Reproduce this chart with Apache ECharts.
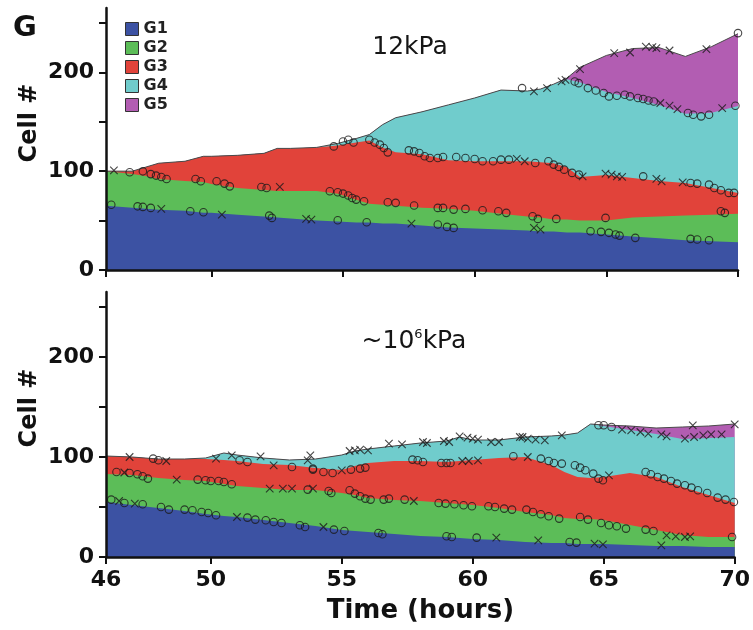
<!DOCTYPE html>
<html><head><meta charset="utf-8">
<script src="https://cdn.jsdelivr.net/npm/echarts@6/dist/echarts.min.js"></script>
<style>html,body{margin:0;padding:0;background:#fff}#c{width:753px;height:630px}</style>
</head><body><div id="c"></div>
<script>
// ---- data (cell counts per generation) ----
const groups = ['G1', 'G2', 'G3', 'G4', 'G5'];
const xTicks = [46, 50, 55, 60, 65, 70];
const yTicks = [0, 50, 100, 150, 200, 250];
const yLabels = [0, 100, 200];

// 12 kPa panel
const hoursTop = [46,47,47.5,48,49,49.7,50,51,52,52.5,53,54,54.8,55.5,56,56.5,57,58,59,60,61,62,62.5,63,63.5,64,65,66,67,68,69,70];
const g1Top = [65,63,62,61,60,58,58,56,54,53,52,50,49,48,48,47,47,45,43,42,41,40,39,39,38,38,36,34,32,30,29,28];
const g2Top = [35,34,33,31,30,31,29,27,27,27,28,30,28,23,19,19,18,18,19,18,16,14,14,12,13,12,14,19,22,25,27,29];
const g3Top = [0,3,9,16,20,26,28,33,37,43,43,44,49,58,64,58,54,54,49,50,53,56,56,57,53,44,46,40,36,33,27,21];
const g4Top = [0,0,0,0,0,0,0,0,0,0,0,0,2,4,6,23,35,43,56,64,72,71,74,80,89,96,84,81,77,70,76,88];
const g5Top = [0,0,0,0,0,0,0,0,0,0,0,0,0,0,0,0,0,0,0,0,0,0,0,0,1,15,37,50,58,58,67,73];

// ~10^6 kPa panel
const hoursBot = [46,47,48,49,49.8,50.5,51,52,53,54,55,55.5,56,57,58,59,59.5,60,61,62,63,63.5,64,64.5,65,66,67,68,69,70];
const g1Bot = [55,52,49,46,43,41,40,37,34,31,27,26,25,23,21,20,19,18,17,15,14,14,13,13,13,12,11,11,10,10];
const g2Bot = [28,30,30,31,33,32,31,32,33,36,37,36,34,34,35,34,34,34,32,30,28,25,25,25,24,20,16,11,10,10];
const g3Bot = [18,18,19,21,22,24,25,24,25,22,23,29,35,39,40,41,43,45,50,55,50,46,42,41,43,52,53,48,42,34];
const g4Bot = [0,0,0,0,1,7,6,6,5,9,15,15,14,15,18,21,24,20,18,20,29,37,44,54,51,43,43,48,57,66];
const g5Bot = [0,0,0,0,0,0,0,0,0,0,0,0,0,0,0,0,0,0,0,0,0,0,0,0,1,4,6,12,12,13];

// division / event markers [hour, cell #]
const topCircles = [[46.9,98.8],[47.4,99.8],[47.7,97],[47.9,95.5],[48.1,94],[48.3,92],[49.4,92],[49.6,89.7],[50.2,89.7],[50.5,87.4],[50.7,84.6],[51.9,84],[52.1,83],
[46.2,66],[47.2,64.4],[47.4,63.8],[47.7,62.8],[49.2,59.4],[49.7,58.4],[52.2,55],[52.3,52.7],
[54.65,125],[55.0,130],[55.2,131.8],[55.4,129],[56.0,131.8],[56.2,129],[56.4,126.8],[56.55,123.4],[56.7,119],
[57.5,121],[57.7,120],[57.9,118.4],[58.1,115],[58.3,113.3],[58.6,113.3],[58.8,114.3],
[59.3,114.3],[59.65,113.3],[60.0,112.3],[60.3,110],[60.7,110],[61.0,111.6],[61.3,111.6],
[54.5,79.6],[54.8,78.6],[55.0,77.3],[55.2,75.3],[55.35,72.9],[55.5,71.2],[55.8,69.5],[56.7,68.5],[57.0,67.9],[57.7,65.2],
[58.6,62.8],[58.8,62.8],[59.2,61.1],[59.65,61.8],[60.3,60.4],[60.9,59.4],[61.2,57.8],
[54.8,50.3],[55.9,48.3],[58.6,46],[58.95,43.6],[59.2,42.6],
[61.8,184],[63.8,190.7],[63.95,189],[70,239.6],
[64.3,184],[64.6,181.6],[64.9,179],[65.1,175.6],[65.4,176.3],[65.7,177.3],[65.9,175.6],[66.2,174],[66.4,172.9],[66.6,171.5],[66.8,170.5],
[68.1,158.8],[68.3,157],[68.6,155.4],[68.9,157],[69.9,166.2],
[62.3,108.3],[62.8,110],[63.0,106.6],[63.2,104.3],[63.4,101.5],[63.7,98.2],[63.96,96.5],[66.4,94.7],[68.2,88],[68.45,87.4],
[68.9,86.4],[69.1,83],[69.35,80.6],[69.65,78],[69.85,78],
[62.2,54.3],[62.4,51.7],[63.1,51.7],[64.97,52.7],[69.35,59.4],[69.5,57.8],
[64.4,39.2],[64.8,38.6],[65.1,37.6],[65.35,35.9],[65.5,34.8],[66.1,32.5],[68.2,31.5],[68.45,30.8],[68.9,30.1]];
const topCrosses = [[46.3,100.8],[52.6,84],[48.1,61.8],[50.4,56],[53.6,51.7],
[61.6,112.3],[53.8,51],[57.6,47],
[62.25,180.6],[62.75,184],[63.3,190.7],[63.45,192.4],
[64.0,203.2],[65.3,219.4],[65.9,220],[66.5,226],[66.75,225.5],[66.9,224.4],[67.4,222],[68.8,223.4],
[67.05,168.9],[67.4,166.2],[67.7,162.8],[69.4,163.8],
[61.9,110],[64.1,94.7],[64.97,97.5],[65.2,96.5],[65.4,94.7],[65.6,94.1],[66.9,92.1],[67.1,89.7],[67.9,88.7],
[62.25,42.6],[62.5,40.9]];
const botCircles = [[47.8,98.4],[48.0,96.7],[51.1,96.7],[51.4,95],[53.1,90],[53.9,88.4],
[46.4,85],[46.9,84],[47.2,82.7],[47.4,80.7],[47.6,78.4],[49.5,77.4],[49.8,76.7],[50.0,76],[50.3,76],[50.5,75],[50.8,72.7],[53.7,67.4],
[46.2,57.4],[46.7,54],[47.4,52.7],[48.1,50],[48.4,47.4],[49.0,47.4],[49.3,46.7],[49.65,45],[49.9,44],[50.2,41.7],[51.4,39.4],[51.7,37.4],[52.1,36.7],[52.4,35],[52.7,34],[53.4,31.7],[53.6,30],
[53.9,87.4],[54.3,85],[54.65,84],[55.35,87.4],[55.7,88.4],[55.9,89.4],[57.7,97.4],[57.9,96.7],[58.1,95],[58.8,94],[59.0,94],[59.15,94],[61.55,100.7],
[54.5,66],[54.6,64],[55.3,66.7],[55.5,63.4],[55.7,60.7],[55.9,58.4],[56.1,57.4],[56.6,57.4],[56.8,58.4],[57.4,57.4],[58.7,54],[58.96,53.4],[59.3,52.7],[59.65,51.7],[59.97,50.7],[60.6,50.7],[60.85,50],[61.2,48.4],[61.5,47.4],
[54.7,27.4],[55.1,26],[56.4,24],[56.55,22.7],[59.0,20.7],[59.2,20],[60.15,19.4],
[64.8,131.7],[65.0,131.7],[65.3,130],
[62.6,98.4],[62.9,96],[63.1,94],[63.4,93.4],[63.9,91.7],[64.1,89.4],[64.3,86.7],[64.6,83.4],[64.8,78.4],[64.97,76.7],
[66.6,85],[66.8,82.7],[67.06,80],[67.3,78.4],[67.57,76],[67.8,73.4],[68.1,71.7],[68.35,69.4],[68.6,66.7],[68.95,64],[69.35,59.4],[69.65,57.4],[69.97,55],
[62.05,47.4],[62.3,45],[62.6,42.7],[62.9,40.7],[63.3,38.4],[64.1,40],[64.4,37.4],[64.9,34],[65.2,31.7],[65.5,30.7],[65.85,28.4],[66.6,27.4],[66.9,26],[69.9,20],
[63.7,15],[63.96,14.4]];
const botCrosses = [[46.9,100],[48.3,96],[50.2,98.4],[50.8,101.7],[51.9,100.7],[52.4,91.7],[53.7,96.7],
[46.7,84.5],[48.7,77.4],[52.25,68.4],[52.75,68.4],[53.1,68.4],
[46.5,56],[47.1,53.4],[51.0,40],
[55.3,106],[55.5,106.7],[55.7,107.4],[56.0,106.7],[56.8,113.4],[57.3,112.7],[58.1,115],[58.25,114],[58.9,116],[59.1,115],[59.5,120.7],[59.8,119.4],[60.0,118.4],[60.2,117.4],[60.7,115],[61.0,115],[61.8,120],
[53.8,101.7],[55.0,86.7],[59.6,96],[59.85,96],[60.2,96.7],
[53.9,68.4],[57.75,56],
[54.3,30],[60.9,19.4],
[61.9,120],[62.1,118.4],[62.4,117.4],[62.75,116.7],[63.4,121.7],
[65.7,127.4],[66.05,126.7],[66.4,125],[66.7,123.4],[67.2,122.7],[67.4,120.7],[68.1,118.4],[68.45,120],[68.8,121.7],[69.1,122.7],[69.5,122.7],[68.4,131.7],[70,132.7],
[62.1,100],[65.2,81.7],
[67.4,21.7],[67.75,20.7],[68.1,20],[68.3,20.7],
[62.5,16.7],[64.65,13.4],[64.97,12.7],[67.2,11.7]];

// ---- styling ----
const colors = ['#3c52a3', '#5cbd58', '#e1433a', '#70cccc', '#b25db2'];
const FONT = 'DejaVu Sans';
const INK = '#111';

function pairs(xs, ys) { return xs.map((x, i) => [x, ys[i]]); }
// running totals of the generation counts (the stacked layer tops)
function cumulative(layers) {
  const out = [];
  layers.forEach((l, k) => out.push(l.map((v, i) => v + (k ? out[k - 1][i] : 0))));
  return out;
}

function panelSeries(hours, layers, gi, circles, crosses) {
  const cum = cumulative(layers);
  const out = cum.map((vals, k) => ({
    name: groups[k], type: 'line', xAxisIndex: gi, yAxisIndex: gi,
    data: pairs(hours, vals), symbol: 'none', showSymbol: false,
    color: colors[k], itemStyle: { color: colors[k] },
    lineStyle: { width: 0 }, areaStyle: { color: colors[k], opacity: 1 },
    silent: true, z: 10 - k, animation: false
  }));
  out.push({
    type: 'line', xAxisIndex: gi, yAxisIndex: gi, data: pairs(hours, cum[cum.length - 1]),
    symbol: 'none', lineStyle: { color: '#4a4a4a', width: 1 }, silent: true, z: 11, animation: false
  });
  out.push({
    type: 'scatter', xAxisIndex: gi, yAxisIndex: gi, data: circles, symbol: 'circle', symbolSize: 7.5,
    itemStyle: { color: 'rgba(0,0,0,0)', borderColor: '#1a1a1a', borderWidth: 1.1 }, silent: true, z: 12, animation: false
  });
  out.push({
    type: 'scatter', xAxisIndex: gi, yAxisIndex: gi, data: crosses, symbol: 'path://M0,0L10,10M10,0L0,10', symbolSize: 7.5,
    itemStyle: { color: 'none', borderColor: '#1a1a1a', borderWidth: 1.1 }, silent: true, z: 12, animation: false
  });
  return out;
}

function xAxis(gi, showLabels) {
  return {
    type: 'value', gridIndex: gi, min: 46, max: 70, z: 20,
    axisLine: { lineStyle: { color: INK, width: 2.5 } },
    axisTick: { customValues: xTicks, length: 7, lineStyle: { color: INK, width: 2 } },
    axisLabel: { show: showLabels, customValues: xTicks, fontFamily: FONT, fontWeight: 'bold', fontSize: 22, color: INK, margin: 12 },
    splitLine: { show: false },
    name: showLabels ? 'Time (hours)' : '', nameLocation: 'middle', nameGap: 41,
    nameTextStyle: { fontFamily: FONT, fontWeight: 'bold', fontSize: 26, color: INK }
  };
}
function yAxis(gi) {
  return {
    type: 'value', gridIndex: gi, min: 0, max: 265, z: 20,
    axisLine: { show: true, lineStyle: { color: INK, width: 2.5 } },
    axisTick: { show: true, customValues: yTicks, length: 7, lineStyle: { color: INK, width: 2 } },
    axisLabel: { customValues: yLabels, fontFamily: FONT, fontWeight: 'bold', fontSize: 22, color: INK, margin: 12 },
    splitLine: { show: false }
  };
}

const chart = echarts.init(document.getElementById('c'));
chart.setOption({
  animation: false,
  backgroundColor: '#fff',
  grid: [
    { left: 106, right: 15, top: 8, height: 262 },
    { left: 106, right: 15, top: 292, height: 265 }
  ],
  xAxis: [xAxis(0, false), xAxis(1, true)],
  yAxis: [yAxis(0), yAxis(1)],
  legend: {
    data: groups, orient: 'vertical', left: 120, top: 16, itemWidth: 13, itemHeight: 13, itemGap: 3,
    icon: 'rect', selectedMode: false,
    itemStyle: { borderColor: '#333', borderWidth: 1 },
    textStyle: { fontFamily: FONT, fontWeight: 'bold', fontSize: 16, color: '#222', lineHeight: 13 }
  },
  graphic: [
    { type: 'text', x: 25, y: 28, style: { text: 'G', font: 'bold 29px "DejaVu Sans"', fill: INK, align: 'center', verticalAlign: 'middle' } },
    { type: 'text', x: 30, y: 123, rotation: Math.PI / 2, style: { text: 'Cell #', font: 'bold 24px "DejaVu Sans"', fill: INK, align: 'center', verticalAlign: 'middle' } },
    { type: 'text', x: 30, y: 408, rotation: Math.PI / 2, style: { text: 'Cell #', font: 'bold 24px "DejaVu Sans"', fill: INK, align: 'center', verticalAlign: 'middle' } },
    { type: 'text', x: 410, y: 47, style: { text: '12kPa', font: '25px "DejaVu Sans"', fill: '#151515', align: 'center', verticalAlign: 'middle' } },
    { type: 'text', x: 414, y: 341, style: {
        text: '{a|~10}{s|6}{a|kPa}', align: 'center', verticalAlign: 'middle',
        rich: {
          a: { fontFamily: FONT, fontSize: 25, fill: '#151515' },
          s: { fontFamily: FONT, fontSize: 13, fill: '#151515', verticalAlign: 'top' }
        }
    } }
  ],
  series: [
    ...panelSeries(hoursTop, [g1Top, g2Top, g3Top, g4Top, g5Top], 0, topCircles, topCrosses),
    ...panelSeries(hoursBot, [g1Bot, g2Bot, g3Bot, g4Bot, g5Bot], 1, botCircles, botCrosses)
  ]
});
</script></body></html>
